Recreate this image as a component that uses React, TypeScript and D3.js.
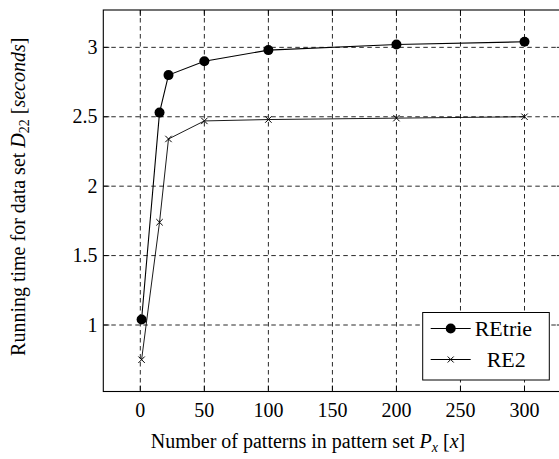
import React from "react";
import * as d3 from "d3";

const xValues = [1, 15, 22, 50, 100, 200, 300];
const retrie = [1.04, 2.53, 2.8, 2.9, 2.98, 3.02, 3.04];
const re2 = [0.75, 1.74, 2.34, 2.47, 2.48, 2.49, 2.5];
const xTicks = [0, 50, 100, 150, 200, 250, 300];
const yTicks = [1, 1.5, 2, 2.5, 3];
const seriesNames = ["REtrie", "RE2"];

const W = 559;
const H = 459;
const L = 103.3;
const R = 562.8;
const T = 10;
const B = 391.5;
const FONT = "Liberation Serif, Times New Roman, DejaVu Serif, serif";
const FS = 20;

export default function App() {
  const xMin = d3.min(xValues)!;
  const xMax = d3.max(xValues)!;
  const allY = [...retrie, ...re2];
  const yMin = d3.min(allY)!;
  const yMax = d3.max(allY)!;
  const xPad = (xMax - xMin) * 0.1;
  const yPad = (yMax - yMin) * 0.1;
  const x = d3.scaleLinear().domain([xMin - xPad, xMax + xPad]).range([L, R]);
  const y = d3.scaleLinear().domain([yMin - yPad, yMax + yPad]).range([B, T]);

  const line = d3
    .line<number>()
    .x((_, i) => x(xValues[i]))
    .y((d) => y(d));

  const tickLen = 6;
  const dash = "4.5 3.5";
  const cross = (cx: number, cy: number, s = 3.2) =>
    `M${cx - s},${cy - s}L${cx + s},${cy + s}M${cx - s},${cy + s}L${cx + s},${cy - s}`;

  const legX = 422.7;
  const legY = 312.5;
  const legW = 126.6;
  const legH = 67.5;
  const ts = { fontFamily: FONT };

  return (
    <svg
      width={W}
      height={H}
      style={{ position: "absolute", left: 0, top: 0, background: "#fff", fontFamily: FONT }}
    >
      <defs>
        <clipPath id="plot">
          <rect x={L} y={T} width={R - L} height={B - T} />
        </clipPath>
      </defs>
      <g clipPath="url(#plot)">
        {xTicks.map((t) => (
          <line
            key={"gx" + t}
            x1={x(t)}
            x2={x(t)}
            y1={T}
            y2={B}
            stroke="#111"
            strokeWidth={0.9}
            strokeDasharray={dash}
          />
        ))}
        {yTicks.map((t) => (
          <line
            key={"gy" + t}
            x1={L}
            x2={R}
            y1={y(t)}
            y2={y(t)}
            stroke="#111"
            strokeWidth={0.9}
            strokeDasharray={dash}
          />
        ))}
        {xTicks.map((t) => (
          <g key={"tx" + t}>
            <line x1={x(t)} x2={x(t)} y1={B} y2={B - tickLen} stroke="#000" strokeWidth={0.9} />
            <line x1={x(t)} x2={x(t)} y1={T} y2={T + tickLen} stroke="#000" strokeWidth={0.9} />
          </g>
        ))}
        {yTicks.map((t) => (
          <g key={"ty" + t}>
            <line x1={L} x2={L + tickLen} y1={y(t)} y2={y(t)} stroke="#000" strokeWidth={0.9} />
            <line x1={R} x2={R - tickLen} y1={y(t)} y2={y(t)} stroke="#000" strokeWidth={0.9} />
          </g>
        ))}
        <path d={line(retrie) || ""} fill="none" stroke="#000" strokeWidth={1.1} />
        <path d={line(re2) || ""} fill="none" stroke="#000" strokeWidth={0.9} />
        {retrie.map((v, i) => (
          <circle key={"c" + i} cx={x(xValues[i])} cy={y(v)} r={5} fill="#000" />
        ))}
        {re2.map((v, i) => (
          <path key={"x" + i} d={cross(x(xValues[i]), y(v))} stroke="#000" strokeWidth={1} fill="none" />
        ))}
      </g>
      <rect x={L} y={T} width={R - L} height={B - T} fill="none" stroke="#000" strokeWidth={1.1} />

      {xTicks.map((t) => (
        <text key={"lx" + t} style={ts} x={x(t)} y={417} fontSize={FS} textAnchor="middle" fill="#000">
          {t}
        </text>
      ))}
      {yTicks.map((t) => (
        <text key={"ly" + t} style={ts} x={97.5} y={y(t) + 6.5} fontSize={FS} textAnchor="end" fill="#000">
          {t}
        </text>
      ))}

      <text style={ts} x={308} y={448} fontSize={FS} textAnchor="middle" fill="#000">
        Number of patterns in pattern set{" "}
        <tspan fontStyle="italic">P</tspan>
        <tspan fontStyle="italic" fontSize={14} dy={4}>x</tspan>
        <tspan dy={-4}> [</tspan>
        <tspan fontStyle="italic">x</tspan>
        <tspan>]</tspan>
      </text>

      <text
        style={ts}
        transform={`translate(25,${(T + B) / 2 - 4}) rotate(-90)`}
        fontSize={FS}
        textAnchor="middle"
        fill="#000"
      >
        Running time for data set{" "}
        <tspan fontStyle="italic">D</tspan>
        <tspan fontSize={14} dy={4}>22</tspan>
        <tspan dy={-4}> [</tspan>
        <tspan fontStyle="italic">seconds</tspan>
        <tspan>]</tspan>
      </text>

      <rect x={legX} y={legY} width={legW} height={legH} fill="#fff" stroke="#000" strokeWidth={1} />
      {seriesNames.map((name, i) => {
        const cy = legY + 16 + i * 31;
        return (
          <g key={name}>
            <line x1={legX + 8} x2={legX + 48} y1={cy} y2={cy} stroke="#000" strokeWidth={1} />
            {i === 0 ? (
              <circle cx={legX + 28} cy={cy} r={5} fill="#000" />
            ) : (
              <path d={cross(legX + 28, cy, 3)} stroke="#000" strokeWidth={1} fill="none" />
            )}
            <text style={ts} x={i === 0 ? legX + 52 : legX + 64} y={cy + 7.5} fontSize={22} fill="#000">
              {name}
            </text>
          </g>
        );
      })}
    </svg>
  );
}
